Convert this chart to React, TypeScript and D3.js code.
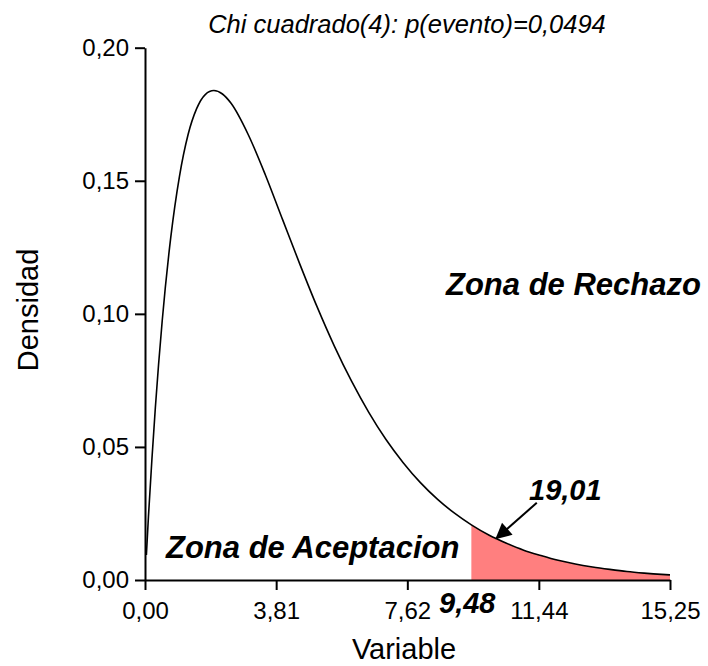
import React, { useEffect, useRef } from "react";
import * as d3 from "d3";

// density (x = Variable, y = Densidad)
const curveX = [0.04, 0.1, 0.2, 0.3, 0.5, 0.75, 1.0, 1.25, 1.5, 1.75, 2.0, 2.25, 2.5, 3.0, 3.5, 4.0, 4.5, 5.0, 5.5, 6.0, 6.5, 7.0, 7.5, 8.0, 8.5, 9.0, 9.48, 10.0, 10.5, 11.0, 11.5, 12.0, 12.5, 13.0, 13.5, 14.0, 14.5, 15.0, 15.25];
const curveY = [0.0094, 0.0238, 0.0452, 0.0646, 0.0974, 0.1289, 0.1516, 0.1673, 0.1771, 0.1824, 0.1839, 0.1826, 0.1791, 0.1673, 0.1521, 0.1353, 0.1186, 0.1026, 0.0879, 0.0747, 0.063, 0.0528, 0.0441, 0.0366, 0.0303, 0.025, 0.0207, 0.0168, 0.0138, 0.0112, 0.0092, 0.0074, 0.006, 0.0049, 0.004, 0.0032, 0.0026, 0.0021, 0.0019];

const xTicks = [0, 3.81, 7.62, 11.44, 15.25];
const xTickLabels = ["0,00", "3,81", "7,62", "11,44", "15,25"];
const yTicks = [0, 0.05, 0.1, 0.15, 0.2];
const yTickLabels = ["0,00", "0,05", "0,10", "0,15", "0,20"];

const criticalValue = 9.48;
const criticalLabel = "9,48";
const arrowLabel = "19,01";
const title = "Chi cuadrado(4): p(evento)=0,0494";

const FONT = "'Liberation Sans', Arial, sans-serif";

export default function App() {
  const xAxisRef = useRef<SVGGElement>(null);
  const yAxisRef = useRef<SVGGElement>(null);

  const width = 708;
  const height = 666;

  const x = d3.scaleLinear().domain([0, 15.25]).range([145, 670]);
  const y = d3.scaleLinear().domain([0, 0.2]).range([580, 47.7]);

  const points = curveX.map((v, i) => ({ x: v, y: curveY[i] }));
  const tail = points.filter((p) => p.x >= criticalValue);

  const line = d3.line<{ x: number; y: number }>()
    .x((d) => x(d.x))
    .y((d) => y(d.y))
    .curve(d3.curveMonotoneX);

  const area = d3.area<{ x: number; y: number }>()
    .x((d) => x(d.x))
    .y0(y(0))
    .y1((d) => y(d.y))
    .curve(d3.curveMonotoneX);

  useEffect(() => {
    const xAxis = d3.axisBottom(x)
      .tickValues(xTicks)
      .tickFormat((d, i) => xTickLabels[i])
      .tickSize(10)
      .tickSizeOuter(0)
      .tickPadding(12);
    const yAxis = d3.axisLeft(y)
      .tickValues(yTicks)
      .tickFormat((d, i) => yTickLabels[i])
      .tickSize(10)
      .tickSizeOuter(0)
      .tickPadding(6);

    const gx = d3.select(xAxisRef.current!).call(xAxis);
    const gy = d3.select(yAxisRef.current!).call(yAxis);
    [gx, gy].forEach((g) => {
      g.attr("font-family", FONT).attr("font-size", 24);
      g.selectAll("path, line").attr("stroke", "#000").attr("stroke-width", 2);
      g.selectAll("text").attr("fill", "#000");
    });
  }, []);

  // arrow annotation, in data units
  const arrowFrom = { x: 11.38, y: 0.029 };
  const arrowTo = { x: 10.21, y: 0.0157 };

  return (
    <svg
      width={width}
      height={height}
      style={{ position: "absolute", left: 0, top: 0, background: "#fff" }}
      fontFamily={FONT}
    >
      <defs>
        <marker id="arrowHead" viewBox="0 0 10 10" refX="9" refY="5"
          markerWidth="9" markerHeight="8" markerUnits="strokeWidth" orient="auto">
          <path d="M0,0 L10,5 L0,10 Z" fill="#000" />
        </marker>
      </defs>

      <text x={407} y={33} textAnchor="middle" fontSize={25.5} fontStyle="italic" fill="#000">
        {title}
      </text>

      <path d={area(tail) || ""} fill="#ff7f7f" stroke="none" />
      <path d={line(points) || ""} fill="none" stroke="#000" strokeWidth={1.6} />

      <g ref={xAxisRef} transform={`translate(0,${y(0)})`} />
      <g ref={yAxisRef} transform={`translate(${x(0)},0)`} />

      <line
        x1={x(arrowFrom.x)} y1={y(arrowFrom.y)}
        x2={x(arrowTo.x)} y2={y(arrowTo.y)}
        stroke="#000" strokeWidth={2} markerEnd="url(#arrowHead)"
      />

      <g fontWeight="bold" fontStyle="italic" fill="#000" fontSize={31}>
        <text x={446} y={295}>Zona de Rechazo</text>
        <text x={166} y={558}>Zona de Aceptacion</text>
        <text x={529} y={500} fontSize={29}>{arrowLabel}</text>
        <text x={439} y={613} fontSize={29}>{criticalLabel}</text>
      </g>

      <text x={404} y={659} textAnchor="middle" fontSize={29} fill="#000">Variable</text>
      <text transform="translate(38,310) rotate(-90)" textAnchor="middle" fontSize={29} fill="#000">
        Densidad
      </text>
    </svg>
  );
}
